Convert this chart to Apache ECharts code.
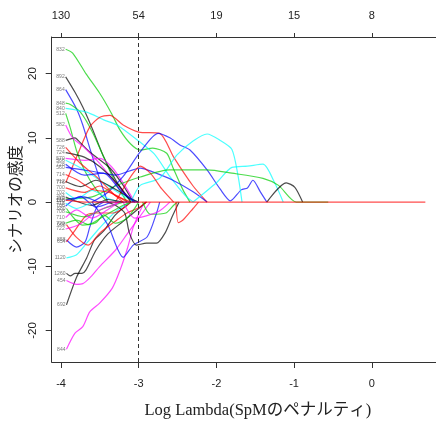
<!DOCTYPE html>
<html><head><meta charset="utf-8">
<script src="https://cdn.jsdelivr.net/npm/echarts@6/dist/echarts.min.js"></script>
<style>html,body{margin:0;padding:0;background:#fff}#c{width:436px;height:427px}</style>
</head><body><div id="c"></div>
<script>
// axis ticks
const xTicks = [-4, -3, -2, -1, 0];
const topLabels = ['130', '54', '19', '15', '8'];
const yTicks = [-20, -10, 0, 10, 20];
const selectedLogLambda = -3;

// coefficient paths: [log lambda, coefficient]
const v832 = [[-3.94,23.8],[-3.85,23.2],[-3.68,20],[-3.5,16.9],[-3.35,13.8],[-3.24,11.2],[-3.1,9],[-2.98,8.1],[-2.82,8.4],[-2.64,7.6],[-2.56,5.4],[-2.43,1.9],[-2.34,0]];
const v892 = [[-3.94,19.5],[-3.82,17.1],[-3.72,14.8],[-3.6,11.5],[-3.45,7],[-3.3,3.5],[-3.15,0.8],[-3.05,0]];
const v864 = [[-3.94,17.5],[-3.8,14.5],[-3.72,12],[-3.62,8],[-3.5,3.5],[-3.4,0]];
const v848 = [[-3.94,15.4],[-3.88,15.2],[-3.75,14],[-3.6,11],[-3.45,7],[-3.3,3],[-3.15,0]];
const v840 = [[-3.94,14.6],[-3.67,14],[-3.45,12.8],[-3.28,12],[-3.0,9.5],[-2.8,7.5],[-2.6,4],[-2.4,1],[-2.3,0]];
const v776 = [[-3.94,3],[-3.8,7],[-3.63,11.7],[-3.5,13.2],[-3.37,13.5],[-3.2,12],[-3.0,10.9],[-2.73,10.7],[-2.55,7],[-2.3,2.5],[-2.12,0]];
const v512 = [[-3.94,13.8],[-3.88,11.5],[-3.8,8],[-3.7,5],[-3.55,2],[-3.4,0]];
const v588 = [[-3.94,9.6],[-3.82,10],[-3.78,9.6],[-3.63,7.8],[-3.37,5.3],[-3.2,2.6],[-3.07,0]];
const v582 = [[-3.94,12],[-3.85,10],[-3.7,8.5],[-3.5,6],[-3.3,3],[-3.1,0.5],[-3.0,0]];
const v570 = [[-3.94,6.8],[-3.7,6.5],[-3.5,6.8],[-3.35,5.5],[-3.2,3],[-3.05,0]];
const v566 = [[-3.94,6.5],[-3.7,5],[-3.45,3],[-3.2,1],[-3.0,0]];
const v560 = [[-3.94,5.4],[-3.6,4.8],[-3.3,4.2],[-2.98,5.3],[-2.82,4.7],[-2.56,3.4],[-2.3,1.6],[-2.12,0]];
const v420 = [[-3.6,0],[-3.4,1.5],[-3.2,4],[-2.98,7.8],[-2.75,10.7],[-2.6,10],[-2.47,8.9],[-2.34,8.1],[-2.12,5],[-1.95,2],[-1.82,0.2],[-1.68,1.9],[-1.6,2.2],[-1.53,3.4],[-1.43,1.5],[-1.35,0]];
const v316 = [[-3.1,0],[-2.98,2.6],[-2.73,3.7],[-2.51,7.3],[-2.3,9.5],[-2.12,10.6],[-1.95,9.6],[-1.8,8.2],[-1.72,4],[-1.67,0]];
const v318 = [[-2.3,0],[-2.0,3],[-1.8,5.4],[-1.6,5.6],[-1.4,5.9],[-1.25,3],[-1.14,0]];
const v210 = [[-3.94,0.5],[-3.6,0.8],[-3.3,2.5],[-2.98,3.9],[-2.6,5.0],[-2.12,5.0],[-1.8,4.5],[-1.4,3.7],[-1.2,2.6],[-0.97,0],[-0.56,0]];
const v108 = [[-1.35,0],[-1.1,3.0],[-0.99,2.3],[-0.89,0]];
const v302 = [[-3.3,0],[-3.1,4],[-2.98,5.6],[-2.85,4.5],[-2.7,2],[-2.55,0]];
const v844 = [[-3.93,-22.9],[-3.82,-20.4],[-3.72,-19.4],[-3.63,-17.1],[-3.5,-15.7],[-3.34,-13.4],[-3.24,-10.6],[-3.14,-7],[-3.07,-3.9],[-2.96,-0.8],[-2.92,0]];
const v692 = [[-3.93,-16],[-3.8,-11.7],[-3.67,-8.7],[-3.57,-5.9],[-3.45,-4.5],[-3.3,-2],[-3.1,0]];
const v454 = [[-3.93,-12.2],[-3.8,-12.8],[-3.72,-12.7],[-3.63,-11.8],[-3.5,-10],[-3.3,-7.5],[-3.15,-5],[-3.0,-2.5],[-2.85,0]];
const v1260 = [[-3.93,-11.1],[-3.88,-11.5],[-3.82,-11.1],[-3.73,-11.1],[-3.68,-10.6],[-3.55,-7.5],[-3.4,-5],[-3.2,-3],[-3.0,-1],[-2.9,0]];
const v1120 = [[-3.93,-8.7],[-3.8,-8.2],[-3.67,-6.4],[-3.5,-4],[-3.3,-1.5],[-3.1,0]];
const v858 = [[-3.93,-5.9],[-3.8,-7],[-3.69,-6.2],[-3.63,-3.9],[-3.54,-0.8],[-3.45,0]];
const v650 = [[-3.6,0],[-3.4,-3.5],[-3.2,-8.6],[-3.07,-6.7],[-2.89,-5.4],[-2.77,-1.7],[-2.73,0]];
const v654 = [[-3.93,-6.2],[-3.82,-4.4],[-3.67,-2],[-3.54,-1.7],[-3.33,-1.7],[-3.2,-1],[-3.1,0]];
const v668 = [[-3.93,-3.5],[-3.8,-5.5],[-3.65,-6.7],[-3.5,-4.8],[-3.28,-2.8],[-3.15,-1.7],[-3.0,-0.9],[-2.9,0]];
const v402 = [[-3.4,0],[-3.3,-0.5],[-3.18,-1.7],[-3.12,-4.8],[-3.03,-6.7],[-2.9,-6.4],[-2.77,-6.4],[-2.66,-4.8],[-2.57,-2.3],[-2.48,0]];
const v222 = [[-2.95,0],[-2.85,-1.9],[-2.65,-1.7],[-2.55,-0.5],[-2.5,0]];
const v680 = [[-3.93,-1],[-3.72,-3.6],[-3.55,-3.2],[-3.45,-2],[-3.3,-3.3],[-3.15,-2.5],[-3.0,0]];
const v230 = [[-2.52,0],[-2.49,-3.2],[-2.43,-2.8],[-2.3,-1],[-2.23,0]];
const v336 = [[-3.2,0],[-3.05,-2.5],[-2.75,-1.5],[-2.6,0]];
const v700 = [[-3.94,2.2],[-3.7,1.5],[-3.5,2.5],[-3.3,1],[-3.1,0]];
const v702 = [[-3.94,1.5],[-3.8,0.5],[-3.6,1.8],[-3.4,0.6],[-3.25,0]];
const v704 = [[-3.94,0.8],[-3.6,-0.5],[-3.4,0.4],[-3.2,0]];
const v706 = [[-3.94,-0.6],[-3.75,0.9],[-3.55,-0.8],[-3.35,0]];
const v708 = [[-3.94,-1.5],[-3.7,-2.3],[-3.45,-1],[-3.2,0]];
const v710 = [[-3.94,-2.4],[-3.8,-1.2],[-3.6,-2.5],[-3.4,-1.2],[-3.25,0]];
const v712 = [[-3.94,3.2],[-3.75,2.4],[-3.55,3.4],[-3.3,2],[-3.1,0.5],[-3.0,0]];
const v714 = [[-3.94,4.3],[-3.8,3.5],[-3.6,2],[-3.35,1.4],[-3.15,0]];
const v716 = [[-3.94,0.3],[-3.7,0.8],[-3.5,0],[-3.0,0]];
const v718 = [[-3.94,-0.2],[-3.8,-1],[-3.6,0]];
const v720 = [[-3.94,-3.3],[-3.8,-2.8],[-3.65,-3.5],[-3.45,-2.2],[-3.2,-0.5],[-3.1,0]];
const v722 = [[-3.94,-4.2],[-3.75,-3.4],[-3.55,-1.5],[-3.35,-0.5],[-3.25,0]];
const v724 = [[-3.94,7.7],[-3.7,7],[-3.5,5.5],[-3.25,2.5],[-3.1,0]];
const v726 = [[-3.94,8.5],[-3.75,6],[-3.55,4],[-3.3,1],[-3.2,0]];
const v728 = [[-3.94,5.9],[-3.7,4.2],[-3.45,4.5],[-3.25,2],[-3.05,0]];
const v100 = [[-3.94,0.3],[-3.7,0],[0.69,0]];

const pathNames = ['832','892','864','848','840','776','512','588','582','570','566','560','420','316','318','210','108','302',
  '844','692','454','1260','1120','858','650','654','668','402','222','680','230','336',
  '700','702','704','706','708','710','712','714','716','718','720','722','724','726','728','100'];
const pathData = [v832,v892,v864,v848,v840,v776,v512,v588,v582,v570,v566,v560,v420,v316,v318,v210,v108,v302,
  v844,v692,v454,v1260,v1120,v858,v650,v654,v668,v402,v222,v680,v230,v336,
  v700,v702,v704,v706,v708,v710,v712,v714,v716,v718,v720,v722,v724,v726,v728,v100];
// palette index: 0 black,1 red,2 green,3 blue,4 cyan,5 magenta
const pathColorIdx = [2,0,3,2,4,1,2,0,5,5,4,3,3,4,4,2,0,1,
  5,0,5,0,4,3,3,1,1,0,2,2,1,5,
  1,4,0,3,2,5,0,1,3,4,2,5,0,1,3,1];

const palette = ['#000000','#ff0000','#00cd00','#0000ff','#00ffff','#ff00ff'];
const sans = 'Liberation Sans, Arial, sans-serif';

const series = pathData.map((d, i) => ({
  type: 'line', name: pathNames[i], data: d, xAxisIndex: 0, yAxisIndex: 0,
  showSymbol: false, smooth: 0.25, silent: true, z: 3,
  lineStyle: { color: palette[pathColorIdx[i]], width: 1.2, opacity: 0.7 }
}));
series.push({
  type: 'scatter', symbolSize: 0, silent: true, z: 4,
  data: pathData.map((d, i) => ({ name: pathNames[i], value: d[0] })).filter(p => p.value[0] < -3.9),
  label: { show: true, position: 'left', distance: 1, fontSize: 5, color: '#555', fontFamily: sans, formatter: p => p.name },
  markLine: {
    symbol: 'none', silent: true, label: { show: false },
    lineStyle: { type: [4, 3], color: '#333', width: 1 },
    data: [{ xAxis: selectedLogLambda }]
  }
});

const chart = echarts.init(document.getElementById('c'), null, { renderer: 'canvas' });
chart.setOption({
  animation: false,
  backgroundColor: '#ffffff',
  grid: { left: 51.7, top: 37, right: 0, height: 325, outerBoundsMode: 'none', containLabel: false },
  xAxis: [{
    type: 'value', position: 'bottom', min: -4.12, max: 0.827,
    axisLine: { show: true, onZero: false, lineStyle: { color: '#333', width: 1 } },
    axisTick: { show: true, length: 6, customValues: xTicks, lineStyle: { color: '#333' } },
    axisLabel: { customValues: xTicks, margin: 16, fontSize: 11, color: '#222', fontFamily: sans },
    splitLine: { show: false },
    name: 'Log Lambda(SpMのペナルティ)', nameLocation: 'middle', nameGap: 40, nameMoveOverlap: false,
    nameTextStyle: { fontSize: 16.5, color: '#222', padding: [0, 0, 0, 28],
      fontFamily: 'Liberation Serif, Noto Sans CJK JP, serif' }
  }, {
    type: 'value', position: 'top', min: -4.12, max: 0.827,
    axisLine: { show: true, onZero: false, lineStyle: { color: '#333', width: 1 } },
    axisTick: { show: true, length: 4, customValues: xTicks, lineStyle: { color: '#333' } },
    axisLabel: { customValues: xTicks, margin: 16, fontSize: 11, color: '#222', fontFamily: sans,
      formatter: v => topLabels[xTicks.indexOf(Math.round(v))] },
    splitLine: { show: false }
  }],
  yAxis: [{
    type: 'value', min: -24.9, max: 25.7,
    axisLine: { show: true, onZero: false, lineStyle: { color: '#333', width: 1 } },
    axisTick: { show: true, length: 6, customValues: yTicks, lineStyle: { color: '#333' } },
    axisLabel: { customValues: yTicks, rotate: 90, margin: 13, fontSize: 11.5, color: '#222', fontFamily: sans },
    splitLine: { show: false },
    name: 'シナリオの感度', nameLocation: 'middle', nameRotate: 90, nameGap: 29, nameMoveOverlap: false,
    nameTextStyle: { fontSize: 15.5, color: '#222', fontFamily: 'Noto Sans CJK JP, sans-serif' }
  }],
  series: series
});
</script></body></html>
